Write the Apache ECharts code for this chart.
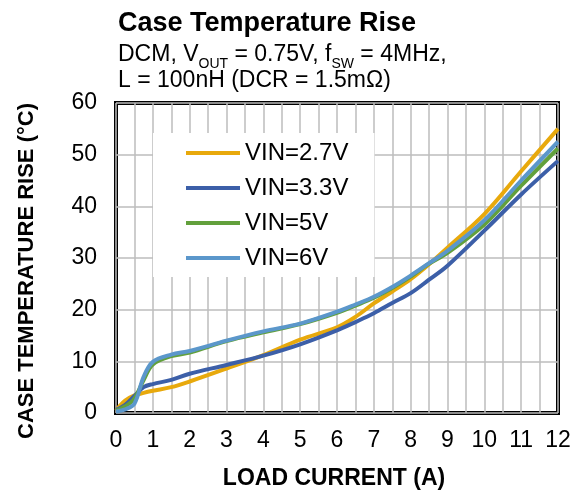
<!DOCTYPE html>
<html>
<head>
<meta charset="utf-8">
<script src="https://cdn.jsdelivr.net/npm/echarts@6/dist/echarts.min.js"></script>
<style>
html,body{margin:0;padding:0;background:#fff;}
#c{width:581px;height:491px;}
</style>
</head>
<body>
<div id="c"></div>
<script>
// Data
const loadCurrent = [0, 0.25, 0.5, 0.75, 1, 1.5, 2, 3, 4, 5, 6, 6.5, 7, 7.5, 8, 8.5, 9, 10, 11, 12];
const vin27 = [0.5, 2.4, 3.4, 3.9, 4.3, 5.0, 6.1, 8.6, 11.2, 14.2, 16.6, 18.6, 21.2, 23.5, 25.9, 28.8, 32.0, 38.5, 46.8, 55.0];
const vin33 = [0.6, 1.6, 3.3, 5.0, 5.6, 6.4, 7.6, 9.3, 11.1, 13.3, 16.0, 17.6, 19.3, 21.3, 23.2, 25.8, 28.5, 35.3, 42.3, 48.8];
const vin5  = [0.4, 1.3, 2.8, 6.4, 9.4, 11.0, 11.7, 13.9, 15.6, 17.2, 19.4, 20.8, 22.3, 24.2, 26.4, 28.9, 31.0, 36.5, 44.0, 51.2];
const vin6  = [0.3, 0.7, 1.8, 7.0, 9.9, 11.3, 12.0, 14.0, 15.8, 17.3, 19.6, 21.0, 22.5, 24.4, 26.6, 29.0, 31.4, 37.3, 45.0, 52.5];
const seriesNames = ['VIN=2.7V', 'VIN=3.3V', 'VIN=5V', 'VIN=6V'];
const seriesColors = ['#E8A90C', '#3C5FA8', '#62A03C', '#5B97CB'];
const yTicks = [0, 10, 20, 30, 40, 50, 60];
const xTicks = [0, 1, 2, 3, 4, 5, 6, 7, 8, 9, 10, 11, 12];

const FONT = '"Liberation Sans", Arial, sans-serif';
const allData = [vin27, vin33, vin5, vin6];

const chart = echarts.init(document.getElementById('c'), null, {renderer: 'canvas'});
const series = allData.map((vals, i) => ({
  name: seriesNames[i],
  type: 'line',
  data: loadCurrent.map((x, j) => [x, vals[j]]),
  smooth: 0.35,
  showSymbol: false,
  symbol: 'none',
  lineStyle: {width: 4, color: seriesColors[i]},
  itemStyle: {color: seriesColors[i]},
  z: 3 + i
}));

chart.setOption({
  animation: false,
  backgroundColor: '#fff',
  grid: {left: 116, right: 23, top: 103, bottom: 78, show: true, borderColor: '#000', borderWidth: 4, backgroundColor: 'transparent'},
  xAxis: {
    type: 'value', min: xTicks[0], max: xTicks[xTicks.length - 1], interval: 1,
    axisLine: {show: false}, axisTick: {show: false},
    axisLabel: {fontSize: 23, color: '#000', fontFamily: FONT, margin: 16},
    splitLine: {show: true, lineStyle: {color: '#BDBDBD', width: 1.5}},
    minorTick: {show: false, splitNumber: 2},
    minorSplitLine: {show: true, lineStyle: {color: '#BDBDBD', width: 1.5}}
  },
  yAxis: {
    type: 'value', min: yTicks[0], max: yTicks[yTicks.length - 1], interval: 10,
    axisLine: {show: false}, axisTick: {show: false},
    axisLabel: {fontSize: 23, color: '#000', fontFamily: FONT, margin: 19},
    splitLine: {show: true, lineStyle: {color: '#BDBDBD', width: 1.5}}
  },
  legend: {
    orient: 'vertical', left: 153, top: 133,
    padding: [8, 26, 7, 33],
    backgroundColor: '#fff',
    itemGap: 11, itemWidth: 54, itemHeight: 4, icon: 'rect',
    textStyle: {fontSize: 24, color: '#000', fontFamily: FONT, lineHeight: 24},
    data: seriesNames
  },
  graphic: [
    {type: 'text', left: 118, top: 10, style: {text: 'Case Temperature Rise', font: 'bold 27px ' + FONT, fill: '#000'}},
    {type: 'text', left: 118, top: 42, style: {
      text: 'DCM, V{sub|OUT} = 0.75V, f{sub|SW} = 4MHz,',
      font: '23px ' + FONT, fill: '#000', lineHeight: 26,
      rich: {sub: {fontSize: 14, fontFamily: FONT, fill: '#000', verticalAlign: 'bottom', lineHeight: 16, padding: [0, 0, -3, 0]}}
    }},
    {type: 'text', left: 118, top: 69, style: {text: 'L = 100nH (DCR = 1.5mΩ)', font: '23px ' + FONT, fill: '#000'}},
    {type: 'text', x: 27, y: 271, rotation: Math.PI / 2, style: {text: 'CASE TEMPERATURE RISE (°C)', font: 'bold 22px ' + FONT, fill: '#000', align: 'center', verticalAlign: 'middle'}},
    {type: 'text', x: 334, y: 479, style: {text: 'LOAD CURRENT (A)', font: 'bold 23px ' + FONT, fill: '#000', align: 'center', verticalAlign: 'middle'}}
  ],
  series: series
});
</script>
</body>
</html>
